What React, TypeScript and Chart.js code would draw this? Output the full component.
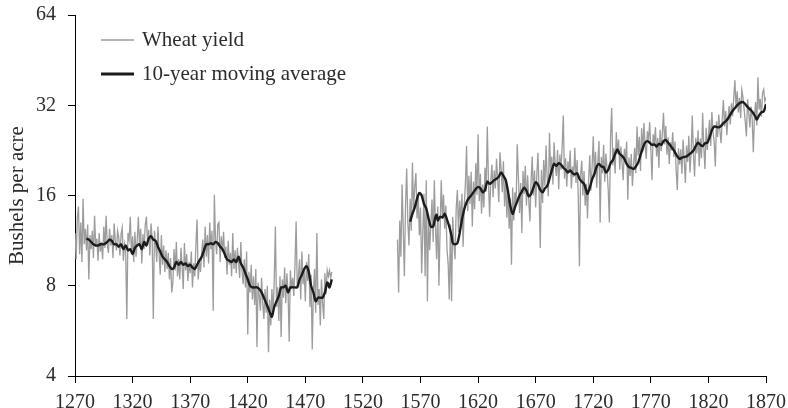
import React, { useEffect, useRef } from "react";
import { Chart, registerables } from "chart.js";

Chart.register(...registerables);

// Annual wheat yield, bushels per acre
const yieldEarlyStart = 1270;
const yieldEarly: number[] = [
  12.0, 9.8, 13.5, 14.7, 10.2, 13.0, 9.6, 15.6, 11.0, 12.4,
  10.5, 12.8, 8.4, 11.8, 10.6, 12.2, 9.9, 13.7, 10.8, 11.5,
  9.7, 12.0, 10.4, 11.2, 9.8, 12.6, 10.7, 13.7, 11.0, 10.3,
  12.4, 10.9, 11.8, 9.9, 12.9, 11.3, 10.5, 12.2, 11.6, 10.1,
  11.9, 12.5, 9.7, 11.0, 10.4, 6.2, 12.0, 11.4, 13.6, 10.2,
  11.7, 9.6, 12.1, 10.0, 11.3, 13.6, 10.8, 12.4, 9.5, 11.9,
  10.6, 12.8, 13.6, 11.2, 12.3, 10.1, 12.9, 11.5, 6.2, 12.2,
  11.0, 9.6, 12.6, 10.3, 8.7, 11.8, 9.4, 10.9, 8.9, 10.5,
  9.1, 10.3, 8.4, 9.9, 7.6, 8.2, 10.6, 9.0, 11.2, 8.6,
  9.8, 8.4, 10.7, 9.3, 7.8, 11.1, 9.0, 10.2, 8.3, 9.6,
  8.8, 10.4, 7.9, 9.5, 8.6, 11.0, 13.3, 8.4, 9.7, 8.9,
  10.3, 11.4, 9.2, 12.6, 10.0, 11.8, 9.5, 13.0, 10.6, 12.2,
  6.6, 16.1, 11.4, 10.2, 12.8, 13.0, 9.6, 11.7, 10.4, 12.1,
  9.9, 10.8, 8.7, 11.3, 9.4, 10.3, 8.6, 12.0, 9.1, 10.5,
  8.8, 10.7, 9.6, 8.5, 11.2, 9.0, 8.1, 9.8, 7.9, 10.4,
  5.5, 8.9, 7.6, 9.4, 7.2, 8.6, 6.9, 9.1, 5.0, 8.2,
  7.4, 6.6, 8.5, 7.0, 6.2, 7.8, 6.5, 8.0, 4.8, 7.2,
  5.9, 7.8, 6.4, 8.3, 12.6, 6.8, 7.9, 6.1, 8.6, 5.4,
  8.4, 7.3, 9.2, 7.0, 8.8, 7.6, 5.2, 9.0, 7.8, 8.5,
  7.4, 9.3, 13.1, 7.9, 8.6, 9.8, 7.2, 10.4, 8.1, 9.0,
  7.1, 9.6, 8.3, 10.2, 6.8, 8.7, 4.9, 7.6, 9.1, 6.5,
  12.0, 6.9, 7.8, 5.9, 8.4, 7.0, 6.2, 8.8, 7.5, 9.0,
  8.6, 9.0, 8.5, 8.9,
];

const yieldLateStart = 1550;
const yieldLate: number[] = [
  11.4, 7.6, 13.2, 10.0, 17.4, 12.5, 8.6, 14.8, 19.7, 13.0,
  10.9, 15.6, 12.2, 20.6, 14.3, 17.1, 19.0, 13.4, 15.9, 11.8,
  14.6, 8.8, 12.0, 16.2, 8.6, 18.0, 7.1, 13.8, 10.5, 12.9,
  15.5, 11.2, 18.0, 12.6, 9.8, 14.7, 8.0, 12.3, 18.0, 13.5,
  16.1, 12.4, 14.8, 10.6, 9.5, 7.2, 12.8, 7.1, 13.6, 11.0,
  9.8, 14.5, 16.7, 12.1, 15.4, 13.0, 16.2, 10.8, 14.9, 17.5,
  23.4, 14.2, 18.6, 15.0, 19.2, 12.6, 17.8, 14.4, 20.5, 16.1,
  25.6, 15.3, 18.9, 13.9, 17.4, 14.6, 19.8, 16.5, 27.2, 18.0,
  13.6, 17.9, 20.3, 15.8, 19.4, 16.9, 21.2, 18.1, 15.2, 22.3,
  19.6, 16.4, 20.8, 14.7, 18.2, 13.5, 16.8, 12.4, 15.6, 9.4,
  17.0, 13.2, 16.4, 14.9, 23.7, 18.5, 14.0, 17.6, 12.0, 19.3,
  16.2, 20.1, 14.8, 18.7, 15.5, 13.1, 17.9, 21.6, 16.0, 19.4,
  14.6, 18.8, 22.2, 16.3, 10.7, 19.5, 15.1, 21.0, 17.2, 23.5,
  18.3, 15.9, 25.9, 19.0, 21.6, 17.4, 24.1, 20.2, 18.6, 22.7,
  16.8, 21.9, 19.5, 23.4, 29.6, 18.2, 21.3, 17.1, 20.8, 19.2,
  22.6, 16.9, 20.0, 18.4, 23.1, 17.6, 21.0, 15.8, 9.3, 18.7,
  20.9, 16.0, 19.3, 14.8, 17.5, 13.4, 18.2, 21.8, 16.6, 19.9,
  25.2, 18.5, 22.4, 17.0, 20.7, 24.3, 13.0, 21.5, 19.0, 23.6,
  17.8, 22.1, 19.6, 16.7, 13.0, 24.9, 31.3, 20.2, 23.0, 18.9,
  26.0, 22.0, 24.6, 19.5, 23.3, 20.6, 18.0, 22.9, 21.0, 24.2,
  15.5, 21.4, 18.6, 22.0, 17.2, 20.3, 23.1, 19.0, 27.2, 21.7,
  25.1, 19.3, 26.8, 22.4, 27.9, 23.6, 21.2, 26.2, 24.4, 28.1,
  22.9, 18.0, 25.6, 23.8, 27.0, 21.6, 24.9, 19.8, 26.5, 22.5,
  25.8, 30.2, 23.7, 27.3, 21.9, 25.0, 20.4, 24.1, 22.6, 26.0,
  21.5, 24.2, 19.4, 16.7, 23.0, 20.3, 22.8, 18.9, 24.6, 21.0,
  17.6, 23.5, 20.7, 25.3, 19.1, 22.4, 29.6, 21.8, 18.5, 24.9,
  22.1, 26.4, 20.0, 24.8, 21.3, 30.2, 23.2, 19.6, 26.9, 22.7,
  25.5, 28.6, 23.4, 30.4, 26.0, 24.2, 20.0, 28.3, 25.1, 29.8,
  26.3, 23.9, 28.9, 33.3, 27.2, 30.6, 25.4, 29.1, 31.8, 27.6,
  32.5, 29.4, 34.0, 38.8, 31.2, 35.6, 30.3, 33.9, 29.0, 36.0,
  34.1, 31.0, 28.2, 25.2, 33.5, 30.4, 27.0, 31.7, 28.8, 22.3,
  29.5, 32.8, 27.4, 39.7, 30.9, 33.6, 29.3, 35.2, 36.1, 33.0,
  34.0,
];

// 10-year moving average
const maEarlyYears: number[] = [
  1280, 1282, 1284, 1286, 1288, 1290, 1292, 1295, 1298, 1300, 1302, 1304, 1306, 1308,
  1310, 1312, 1314, 1316, 1318, 1320, 1322, 1324, 1326, 1328, 1330, 1332, 1334, 1336,
  1338, 1340, 1342, 1344, 1346, 1348, 1350, 1352, 1354, 1356, 1358, 1360, 1362, 1364,
  1366, 1368, 1370, 1372, 1374, 1376, 1378, 1380, 1382, 1384, 1386, 1388, 1390, 1392,
  1394, 1396, 1398, 1400, 1402, 1404, 1406, 1408, 1410, 1412, 1414, 1416, 1418, 1420,
  1422, 1424, 1426, 1428, 1430, 1432, 1434, 1436, 1438, 1440, 1441, 1443, 1445, 1447,
  1449, 1451, 1453, 1455, 1457, 1459, 1461, 1463, 1465, 1467, 1469, 1471, 1473, 1475,
  1477, 1479, 1481, 1483, 1485, 1487, 1489, 1490, 1491, 1493,
];
const maEarly: number[] = [
  11.5, 11.4, 11.2, 11.0, 10.9, 10.9, 11.0, 11.0, 11.2, 11.4, 11.3, 11.0, 11.0, 10.8,
  11.0, 10.6, 10.9, 10.5, 10.6, 10.2, 10.7, 10.9, 11.0, 10.6, 11.2, 10.9, 11.5, 11.7,
  11.4, 11.3, 10.8, 10.4, 10.0, 9.8, 9.6, 9.3, 9.1, 9.2, 9.6, 9.4, 9.6, 9.4,
  9.5, 9.3, 9.4, 9.2, 9.1, 9.4, 9.7, 10.0, 10.5, 11.0, 11.0, 11.1, 11.0, 11.2,
  11.1, 10.8, 10.6, 10.2, 9.8, 9.7, 9.6, 9.8, 9.6, 10.0, 9.5, 9.2, 8.8, 8.4,
  8.0, 7.9, 7.9, 7.9, 7.8, 7.6, 7.3, 7.0, 6.7, 6.4, 6.3, 6.8, 7.1, 7.4,
  7.9, 7.9, 8.0, 7.6, 7.9, 7.9, 7.9, 7.9, 8.4, 8.7, 9.1, 9.3, 8.9, 8.0,
  7.6, 7.1, 7.3, 7.3, 7.3, 7.6, 8.2, 8.1, 7.9, 8.4,
];
const maLateYears: number[] = [
  1561, 1563, 1565, 1567, 1569, 1571, 1573, 1575, 1577, 1579, 1581, 1583, 1584, 1585,
  1587, 1589, 1591, 1593, 1595, 1597, 1598, 1600, 1602, 1604, 1606, 1608, 1610, 1612,
  1614, 1616, 1618, 1620, 1622, 1624, 1626, 1628, 1630, 1632, 1634, 1636, 1638, 1640,
  1642, 1644, 1646, 1648, 1650, 1652, 1654, 1656, 1658, 1660, 1662, 1664, 1666, 1668,
  1670, 1672, 1674, 1676, 1678, 1680, 1682, 1684, 1686, 1688, 1690, 1692, 1694, 1696,
  1698, 1700, 1702, 1704, 1706, 1708, 1710, 1712, 1714, 1715, 1717, 1719, 1721, 1723,
  1725, 1727, 1729, 1731, 1733, 1735, 1737, 1739, 1741, 1743, 1745, 1747, 1749, 1751,
  1753, 1755, 1757, 1759, 1761, 1763, 1765, 1767, 1769, 1771, 1773, 1775, 1777, 1779,
  1781, 1783, 1785, 1787, 1789, 1791, 1793, 1795, 1797, 1799, 1801, 1803, 1805, 1807,
  1809, 1811, 1813, 1815, 1817, 1819, 1821, 1823, 1825, 1827, 1829, 1831, 1833, 1835,
  1837, 1839, 1841, 1843, 1845, 1847, 1849, 1851, 1853, 1855, 1857, 1859, 1861, 1862,
  1864, 1866, 1868, 1870,
];
const maLate: number[] = [
  13.1, 13.9, 14.6, 15.6, 16.3, 16.0, 15.0, 14.5, 13.4, 12.6, 12.6, 13.6, 13.8, 13.2,
  13.6, 13.5, 13.9, 13.3, 12.6, 11.7, 11.1, 11.0, 11.1, 12.0, 13.3, 14.4, 15.2, 15.7,
  16.0, 16.4, 16.8, 17.1, 16.9, 16.4, 16.7, 17.8, 17.5, 17.7, 18.0, 18.2, 18.5, 19.1,
  18.6, 18.0, 16.5, 14.8, 13.9, 14.6, 15.3, 16.0, 16.5, 17.0, 16.6, 15.9, 16.2, 17.0,
  17.7, 17.4, 16.7, 16.4, 16.9, 17.2, 18.2, 19.4, 20.4, 20.1, 20.5, 20.3, 19.8, 19.5,
  19.1, 19.4, 19.0, 18.8, 19.0, 18.2, 17.8, 17.5, 16.6, 16.2, 17.0, 18.1, 18.9, 20.0,
  20.4, 20.0, 19.9, 19.1, 19.5, 20.5, 21.0, 22.0, 22.8, 22.0, 21.7, 21.2, 20.4, 19.9,
  19.8, 19.6, 20.0, 20.6, 21.8, 23.0, 24.0, 24.3, 24.0, 23.6, 23.7, 23.3, 23.8, 23.6,
  24.3, 24.5, 24.0, 23.5, 22.9, 22.3, 21.6, 21.2, 21.4, 21.5, 21.6, 21.9, 22.2, 22.6,
  23.4, 24.0, 23.6, 23.4, 23.9, 24.0, 25.0, 26.4, 27.2, 27.1, 27.0, 27.3, 27.9, 28.3,
  28.9, 29.8, 30.6, 31.3, 32.0, 32.5, 32.8, 32.6, 31.9, 31.3, 30.8, 30.1, 29.2, 28.7,
  29.6, 30.3, 30.5, 32.3,
];

const xTickLabels: number[] = [1270, 1320, 1370, 1420, 1470, 1520, 1570, 1620, 1670, 1720, 1770, 1820, 1870];
const yTickLabels: number[] = [4, 8, 16, 32, 64];

const FONT = "'Liberation Serif', 'DejaVu Serif', serif";
const TEXT = "#2b2b2b";

const legendPlugin = {
  id: "insideLegend",
  afterDraw(chart: any) {
    const ctx = chart.ctx;
    const items = [
      { ds: chart.data.datasets[0], y: 40, w: 1.3 },
      { ds: chart.data.datasets[1], y: 74, w: 3 },
    ];
    ctx.save();
    items.forEach((it) => {
      ctx.beginPath();
      ctx.strokeStyle = it.ds.borderColor;
      ctx.lineWidth = it.w;
      ctx.moveTo(101, it.y);
      ctx.lineTo(134, it.y);
      ctx.stroke();
      ctx.fillStyle = TEXT;
      ctx.font = `21px ${FONT}`;
      ctx.textBaseline = "middle";
      ctx.textAlign = "left";
      ctx.fillText(it.ds.label, 142, it.y);
    });
    ctx.restore();
  },
};

export default function App() {
  const ref = useRef<HTMLCanvasElement | null>(null);

  useEffect(() => {
    document.body.style.margin = "0";
    const yieldPoints: { x: number; y: number | null }[] = [];
    yieldEarly.forEach((v, i) => yieldPoints.push({ x: yieldEarlyStart + i, y: v }));
    yieldPoints.push({ x: 1520, y: null });
    yieldLate.forEach((v, i) => yieldPoints.push({ x: yieldLateStart + i, y: v }));

    const maPoints: { x: number; y: number | null }[] = [];
    maEarlyYears.forEach((yr, i) => maPoints.push({ x: yr, y: maEarly[i] }));
    maPoints.push({ x: 1520, y: null });
    maLateYears.forEach((yr, i) => maPoints.push({ x: yr, y: maLate[i] }));

    const chart = new Chart(ref.current as HTMLCanvasElement, {
      type: "line",
      data: {
        datasets: [
          {
            label: "Wheat yield",
            data: yieldPoints as any,
            borderColor: "#9c9c9c",
            borderWidth: 1.3,
            pointRadius: 0,
            spanGaps: false,
            tension: 0,
            order: 2,
          },
          {
            label: "10-year moving average",
            data: maPoints as any,
            borderColor: "#1c1c1c",
            borderWidth: 2.4,
            pointRadius: 0,
            spanGaps: false,
            tension: 0.3,
            order: 1,
          },
        ],
      },
      options: {
        animation: false,
        responsive: false,
        maintainAspectRatio: false,
        layout: { padding: { top: 15, right: 22, left: 0, bottom: 0 } },
        plugins: {
          legend: { display: false },
          tooltip: { enabled: false },
        },
        scales: {
          x: {
            type: "linear",
            min: 1270,
            max: 1870,
            afterBuildTicks: (scale: any) => {
              scale.ticks = xTickLabels.map((v) => ({ value: v }));
            },
            afterFit: (scale: any) => {
              scale.height = 32;
              scale.paddingLeft = 0;
              scale.paddingRight = 0;
            },
            ticks: {
              color: TEXT,
              font: { family: FONT, size: 20 },
              padding: 8,
              maxRotation: 0,
              autoSkip: false,
              callback: (v: any) => String(v),
            },
            grid: { drawOnChartArea: false, drawTicks: true, tickLength: 7, color: "#000" },
            border: { color: "#000", width: 1 },
          },
          y: {
            type: "logarithmic",
            min: 4,
            max: 64,
            afterBuildTicks: (scale: any) => {
              scale.ticks = yTickLabels.map((v) => ({ value: v }));
            },
            afterFit: (scale: any) => {
              scale.width = 75;
              scale.paddingTop = 0;
              scale.paddingBottom = 0;
            },
            ticks: {
              color: TEXT,
              font: { family: FONT, size: 20 },
              padding: 12,
              autoSkip: false,
              callback: (v: any) => String(v),
            },
            grid: { drawOnChartArea: false, drawTicks: true, tickLength: 7, color: "#000" },
            border: { color: "#000", width: 1 },
            title: {
              display: true,
              text: "Bushels per acre",
              color: TEXT,
              font: { family: FONT, size: 21 },
              padding: { top: 5, bottom: 0 },
            },
          },
        },
      },
      plugins: [legendPlugin],
    });
    return () => chart.destroy();
  }, []);

  return (
    <div style={{ width: 788, height: 408 }}>
      <canvas ref={ref} width={788} height={408} style={{ display: "block" }} />
    </div>
  );
}
